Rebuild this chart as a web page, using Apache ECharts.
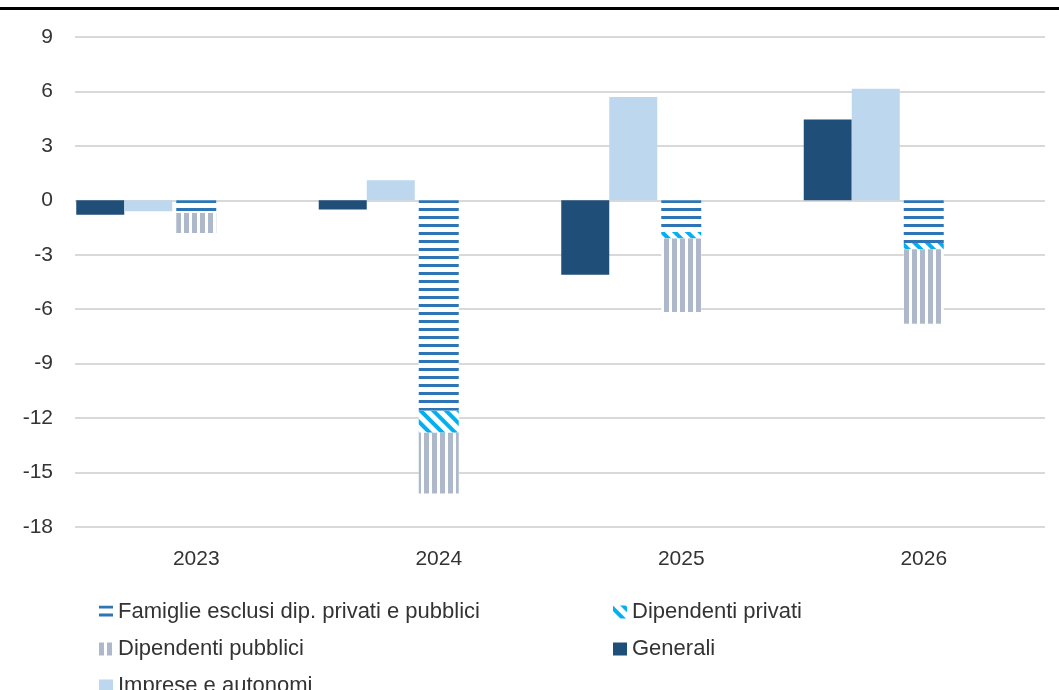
<!DOCTYPE html>
<html>
<head>
<meta charset="utf-8">
<script src="https://cdn.jsdelivr.net/npm/echarts@6/dist/echarts.min.js"></script>
<style>
  html, body { margin: 0; padding: 0; background: #fff; }
  #chart { width: 1059px; height: 690px; }
</style>
</head>
<body>
<div id="chart"></div>
<script>
// dati
var years = ['2023', '2024', '2025', '2026'];
var generali = [-0.8, -0.5, -4.1, 4.45];
var imprese = [-0.6, 1.1, 5.7, 6.15];
var famiglie = [-0.7, -11.6, -1.75, -2.35];
var privati = [0, -1.2, -0.35, -0.35];
var pubblici = [-1.1, -3.35, -4.05, -4.1];
var empty = ['-', '-', '-', '-'];

var FONT = 'Liberation Sans';
var TXT = '#333333';

var chart = echarts.init(document.getElementById('chart'));

var legendBase = {
  orient: 'vertical', top: 601, height: 150, padding: 0, itemGap: 15,
  itemWidth: 14, itemHeight: 13, icon: 'rect',
  textStyle: { fontSize: 22, color: TXT, fontFamily: FONT }
};

var option = {
  animation: false,
  textStyle: { fontFamily: FONT },
  graphic: [{
    type: 'rect',
    shape: { x: 0, y: 7, width: 1059, height: 3 },
    style: { fill: '#000' }
  }],
  grid: { left: 75, right: 14, top: 37, bottom: 163 },
  legend: [
    Object.assign({}, legendBase, {
      left: 99,
      data: ['Famiglie esclusi dip. privati e pubblici', 'Dipendenti pubblici', 'Imprese e autonomi']
    }),
    Object.assign({}, legendBase, {
      left: 613,
      data: ['Dipendenti privati', 'Generali']
    })
  ],
  xAxis: [
    {
      type: 'category', data: years,
      axisLine: { show: false }, axisTick: { show: false },
      axisLabel: { fontSize: 21, color: TXT, margin: 22 }
    },
    {
      type: 'category', data: years, show: false
    }
  ],
  yAxis: {
    type: 'value', min: -18, max: 9, interval: 3,
    axisLine: { show: false }, axisTick: { show: false },
    axisLabel: { fontSize: 21, color: TXT, margin: 22 },
    splitLine: { lineStyle: { color: '#d9d9d9', width: 2 } }
  },
  series: [
    {
      name: 'Generali', type: 'bar', xAxisIndex: 0, data: generali,
      barWidth: 48, barGap: '0%',
      itemStyle: { color: '#1f4e79' }
    },
    {
      name: 'Imprese e autonomi', type: 'bar', xAxisIndex: 0, data: imprese,
      barWidth: 48, barGap: '0%',
      itemStyle: { color: '#bdd7ee' }
    },
    // posti vuoti per allineare come in Excel
    { name: 'v1', type: 'bar', xAxisIndex: 0, data: empty, barWidth: 48, barGap: '0%' },
    { name: 'v2', type: 'bar', xAxisIndex: 0, data: empty, barWidth: 48, barGap: '0%' },
    { name: 'v3', type: 'bar', xAxisIndex: 0, data: empty, barWidth: 48, barGap: '0%' },
    {
      name: 'Famiglie esclusi dip. privati e pubblici', type: 'bar', xAxisIndex: 1,
      stack: 'neg', data: famiglie, barWidth: 40,
      itemStyle: {
        color: '#ffffff',
        decal: { symbol: 'rect', color: '#2e75b6', dashArrayX: [1, 0], dashArrayY: [3, 4.3] }
      }
    },
    {
      name: 'Dipendenti privati', type: 'bar', xAxisIndex: 1,
      stack: 'neg', data: privati, barWidth: 40,
      itemStyle: {
        color: '#ffffff',
        decal: { symbol: 'rect', color: '#00b0f0', dashArrayX: [1, 0], dashArrayY: [4, 5], rotation: Math.PI / 4 }
      }
    },
    {
      name: 'Dipendenti pubblici', type: 'bar', xAxisIndex: 1,
      stack: 'neg', data: pubblici, barWidth: 40,
      itemStyle: {
        color: '#ffffff',
        decal: { symbol: 'rect', color: '#adb9ca', dashArrayX: [4.5, 2.8], dashArrayY: [1, 0] }
      }
    }
  ]
};

chart.setOption(option);
</script>
</body>
</html>
